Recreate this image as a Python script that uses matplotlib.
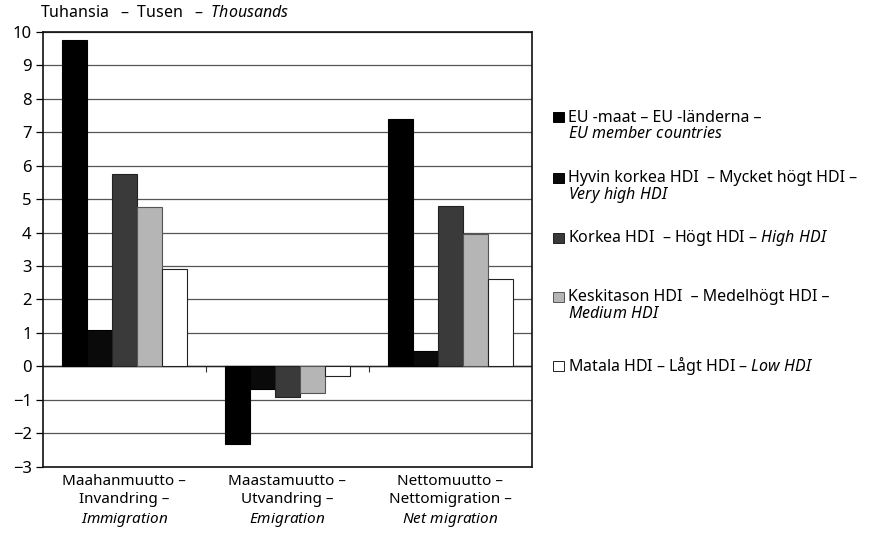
import numpy as np
import matplotlib.pyplot as plt
from matplotlib.patches import Rectangle

plt.rcParams['font.family'] = ['Noto Sans', 'DejaVu Sans']
plt.rcParams['mathtext.fontset'] = 'custom'
plt.rcParams['mathtext.rm'] = 'Noto Sans'
plt.rcParams['mathtext.it'] = 'Noto Sans:italic'

categories = ['Maahanmuutto –\nInvandring –\n$\\it{Immigration}$',
              'Maastamuutto –\nUtvandring –\n$\\it{Emigration}$',
              'Nettomuutto –\nNettomigration –\n$\\it{Net\\ migration}$']
series_labels = [('EU -maat – EU -länderna –', '$\\it{EU\\ member\\ countries}$'),
                 ('Hyvin korkea HDI  – Mycket högt HDI –', '$\\it{Very\\ high\\ HDI}$'),
                 ('Korkea HDI  – Högt HDI – $\\it{High\\ HDI}$', ''),
                 ('Keskitason HDI  – Medelhögt HDI –', '$\\it{Medium\\ HDI}$'),
                 ('Matala HDI – Lågt HDI – $\\it{Low\\ HDI}$', '')]
eu = [9.75, -2.33, 7.4]
very_high = [1.1, -0.68, 0.45]
high = [5.75, -0.91, 4.8]
medium = [4.75, -0.79, 3.95]
low = [2.9, -0.3, 2.6]
yticks = list(range(-3, 11))

values = [eu, very_high, high, medium, low]
colors = ['#000000', '#0a0a0a', '#3a3a3a', '#b5b5b5', '#ffffff']
edges = ['#000000', '#000000', '#222222', '#555555', '#222222']

fig = plt.figure(figsize=(8.73, 5.39), dpi=100)
ax = fig.add_axes([0.049, 0.134, 0.56, 0.807])

x = np.arange(len(categories))
w = 0.153
for i, vals in enumerate(values):
    ax.bar(x + (i - 2) * w, vals, w, color=colors[i], edgecolor=edges[i], linewidth=0.8, zorder=3)

ax.set_xlim(-0.5, 2.5)
ax.set_ylim(-3, 10)
ax.set_yticks(yticks)
ax.set_yticklabels([str(t).replace('-', '−') for t in yticks], fontsize=12)
ax.yaxis.grid(True, color='#555555', linewidth=0.9)
ax.set_axisbelow(True)
ax.axhline(0, color='#222222', linewidth=1.0, zorder=2)
ax.tick_params(axis='y', length=5, width=0.9, pad=3)
ax.set_xticks(x)
ax.set_xticklabels(categories, fontsize=11, linespacing=1.3)
ax.tick_params(axis='x', length=0, pad=5)
for s in ax.spines.values():
    s.set_linewidth(1.2)
    s.set_color('#111111')

# category separator ticks on the zero line
sec = ax.secondary_xaxis(3 / 13)
sec.set_xticks([0.5, 1.5])
sec.set_xticklabels(['', ''])
sec.tick_params(axis='x', length=4, width=0.8, color='#333333')
sec.spines['bottom'].set_visible(False)

fig.text(0.046, 0.975, 'Tuhansia   –  Tusen   –  $\\it{Thousands}$', fontsize=11.5, va='center')

# legend
tops = [0.782, 0.669, 0.558, 0.449, 0.321]
for i, (l1, l2) in enumerate(series_labels):
    y = tops[i]
    fig.patches.append(Rectangle((0.634, y - 0.009), 0.012, 0.019, transform=fig.transFigure,
                                 facecolor=colors[i], edgecolor=edges[i], linewidth=0.7))
    fig.text(0.651, y, l1, fontsize=11.5, va='center')
    if l2:
        fig.text(0.651, y - 0.0315, l2, fontsize=11.5, va='center')

fig.savefig('out.png', dpi=100)
